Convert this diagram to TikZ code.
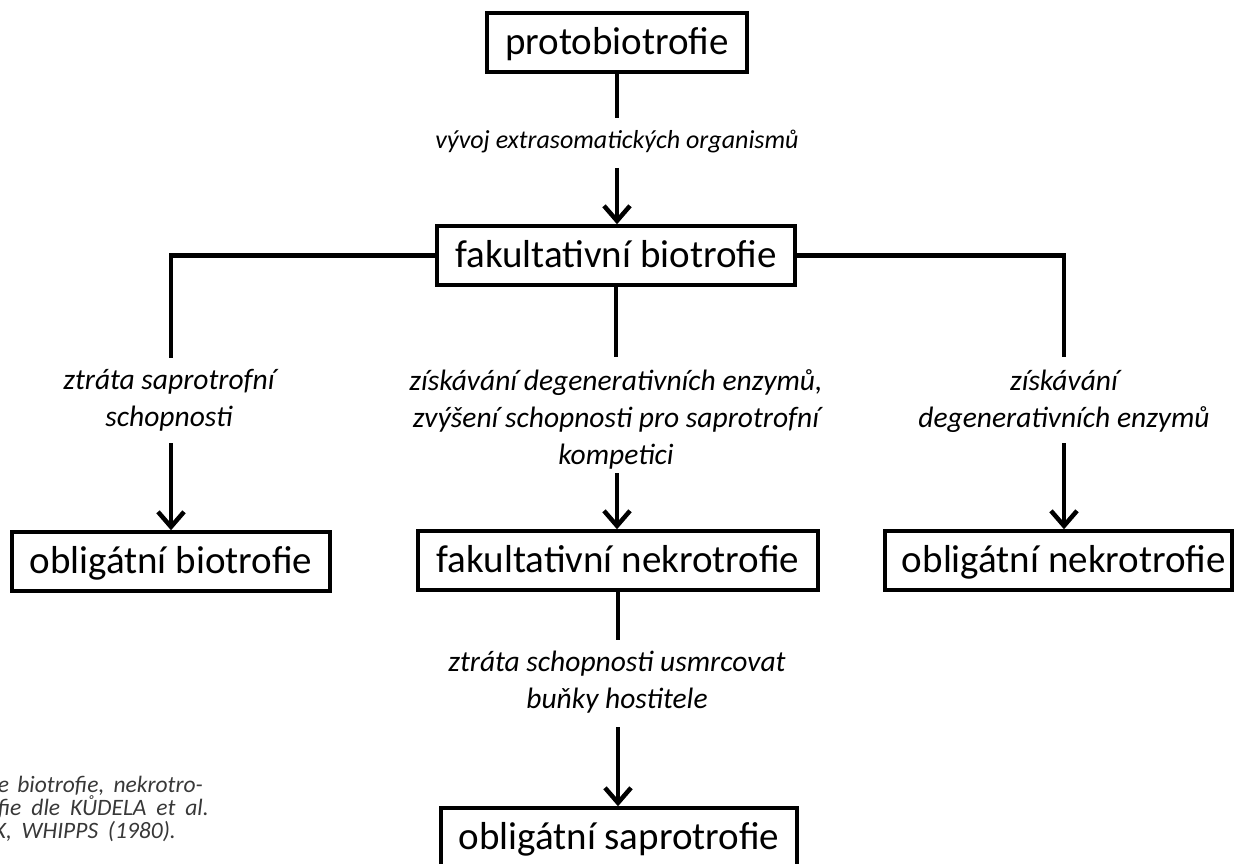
\documentclass[tikz,border=0pt]{standalone}
\usepackage{fontspec}
\setmainfont{Carlito}
\usetikzlibrary{arrows.meta}
\begin{document}
\begin{tikzpicture}[x=1pt,y=-1pt,
  stage/.style={draw, line width=3.5pt, inner sep=0pt, minimum height=59pt,
    text height=24.5pt, text depth=0pt, font=\fontsize{39}{46}\selectfont},
  link/.style={line width=4.5pt},
  flow/.style={line width=4.5pt, -{Straight Barb[length=15pt,width=26pt]}},
  note/.style={align=center, inner sep=0pt, font=\fontsize{29.5}{37}\selectfont\itshape},
  captext/.style={inner sep=0pt, text=black!78, font=\fontsize{23.5}{26}\selectfont\itshape},
]
\useasboundingbox (0,0) rectangle (1235,864);
\clip (0,0) rectangle (1235,864);

% stages
\node[stage, minimum width=260pt] (proto) at (617,42.5) {protobiotrofie};
\node[stage, minimum width=358pt] (fb) at (616,255.5) {fakultativní biotrofie};
\node[stage, minimum width=318pt] (ob) at (171,561.5) {obligátní biotrofie};
\node[stage, minimum width=400pt] (fn) at (618,560.5) {fakultativní nekrotrofie};
\node[stage, minimum width=347pt] (on) at (1058.5,560.5) {\hspace*{11pt}obligátní nekrotrofie};
\node[stage, minimum width=356pt] (os) at (619,837.5) {obligátní saprotrofie};

% transition labels
\node[note, anchor=base, font=\fontsize{26}{32}\selectfont\itshape] (t0) at (617,149) {vývoj extrasomatických organismů};
\node[note] (tl) at (169,400) {ztráta saprotrofní\\schopnosti};
\node[note] (tm) at (616,419.5) {získávání degenerativních enzymů,\\zvýšení schopnosti pro saprotrofní\\kompetici};
\node[note] (tr) at (1064,401) {získávání\\degenerativních enzymů};
\node[note] (tb) at (617,682) {ztráta schopnosti usmrcovat\\buňky hostitele};

% connector ends around the labels
\coordinate (a1) at (617,118);  \coordinate (a2) at (617,168);
\coordinate (l1) at (171,358);  \coordinate (l2) at (171,443);
\coordinate (m1) at (616,357);  \coordinate (m2) at (617,473);
\coordinate (r1) at (1064,357); \coordinate (r2) at (1064,443);
\coordinate (b1) at (618,640);  \coordinate (b2) at (618,727);

\draw[link] (proto.south) -- (a1);
\draw[flow] (a2) -- (fb.north -| a2);
\draw[link] (fb.west) -| (l1);
\draw[flow] (l2) -- (ob.north);
\draw[link] (fb.south) -- (m1);
\draw[flow] (m2) -- (fn.north -| m2);
\draw[link] (fb.east) -| (r1);
\draw[flow] (r2) -- (on.north -| r2);
\draw[link] (fn.south -| b1) -- (b1);
\draw[flow] (b2) -- (os.north -| b2);

% caption fragment, cut at the left edge
\node[captext, anchor=base east] (c1) at (203,792) {\makebox[205pt][s]{e biotrofie, nekrotro-}};
\node[captext, anchor=base east] (c2) at (209,815.5) {\makebox[211pt][s]{fie dle KŮDELA et al.}};
\node[captext, anchor=base east] (c3) at (176,838.5) {\makebox[182pt][s]{K, WHIPPS (1980).}};
\end{tikzpicture}
\end{document}
